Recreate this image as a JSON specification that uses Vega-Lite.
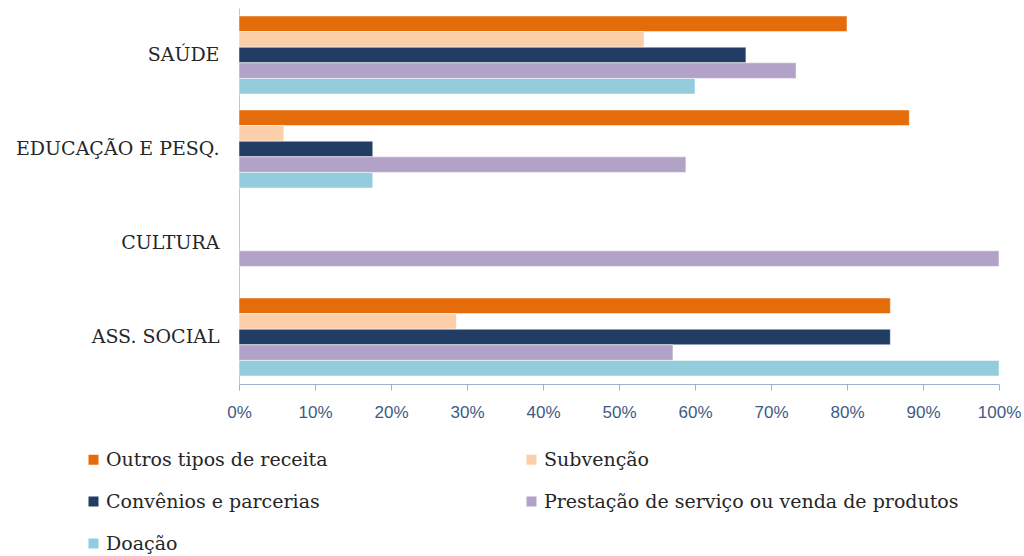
{
  "$schema": "https://vega.github.io/schema/vega-lite/v6.json",
  "autosize": {"type": "none"},
  "width": 760,
  "height": 376,
  "padding": {"left": 239, "top": 8, "right": 25, "bottom": 172},
  "background": "white",
  "data": {"values": [
    {"area": "SAÚDE", "fonte": "Outros tipos de receita", "pct": 80.0},
    {"area": "SAÚDE", "fonte": "Subvenção", "pct": 53.3},
    {"area": "SAÚDE", "fonte": "Convênios e parcerias", "pct": 66.7},
    {"area": "SAÚDE", "fonte": "Prestação de serviço ou venda de produtos", "pct": 73.3},
    {"area": "SAÚDE", "fonte": "Doação", "pct": 60.0},
    {"area": "EDUCAÇÃO E PESQ.", "fonte": "Outros tipos de receita", "pct": 88.2},
    {"area": "EDUCAÇÃO E PESQ.", "fonte": "Subvenção", "pct": 5.9},
    {"area": "EDUCAÇÃO E PESQ.", "fonte": "Convênios e parcerias", "pct": 17.6},
    {"area": "EDUCAÇÃO E PESQ.", "fonte": "Prestação de serviço ou venda de produtos", "pct": 58.8},
    {"area": "EDUCAÇÃO E PESQ.", "fonte": "Doação", "pct": 17.6},
    {"area": "CULTURA", "fonte": "Prestação de serviço ou venda de produtos", "pct": 100.0},
    {"area": "ASS. SOCIAL", "fonte": "Outros tipos de receita", "pct": 85.7},
    {"area": "ASS. SOCIAL", "fonte": "Subvenção", "pct": 28.6},
    {"area": "ASS. SOCIAL", "fonte": "Convênios e parcerias", "pct": 85.7},
    {"area": "ASS. SOCIAL", "fonte": "Prestação de serviço ou venda de produtos", "pct": 57.1},
    {"area": "ASS. SOCIAL", "fonte": "Doação", "pct": 100.0}
  ]},
  "mark": {"type": "bar", "stroke": "white", "strokeWidth": 0.5},
  "encoding": {
    "y": {
      "field": "area", "type": "nominal",
      "sort": ["SAÚDE", "EDUCAÇÃO E PESQ.", "CULTURA", "ASS. SOCIAL"],
      "scale": {"paddingInner": 0.17, "paddingOuter": 0.085},
      "axis": {
        "title": null, "ticks": false, "domainColor": "#B9C7DB", "domainWidth": 1,
        "labelFont": "DejaVu Serif", "labelFontSize": 19, "labelColor": "#262626",
        "labelPadding": 20, "labelLimit": 300
      }
    },
    "yOffset": {
      "field": "fonte", "type": "nominal",
      "scale": {"domain": ["Outros tipos de receita", "Subvenção", "Convênios e parcerias", "Prestação de serviço ou venda de produtos", "Doação"], "paddingInner": 0, "paddingOuter": 0}
    },
    "x": {
      "field": "pct", "type": "quantitative",
      "scale": {"domain": [0, 100], "nice": false},
      "axis": {
        "title": null, "grid": false, "values": [0,10,20,30,40,50,60,70,80,90,100],
        "labelExpr": "datum.value + '%'", "labelFlush": false, "labelOverlap": false,
        "domainColor": "#9FB2CC", "tickColor": "#9FB2CC", "tickSize": 6,
        "labelFont": "Liberation Sans Narrow, Liberation Sans", "labelFontSize": 17,
        "labelColor": "#3E5A84", "labelPadding": 14
      }
    },
    "color": {
      "field": "fonte", "type": "nominal",
      "scale": {
        "domain": ["Outros tipos de receita", "Subvenção", "Convênios e parcerias", "Prestação de serviço ou venda de produtos", "Doação"],
        "range": ["#E46C0A", "#FBCFAA", "#213D63", "#B3A2C7", "#93CDDD"]
      },
      "legend": {
        "title": null, "orient": "none", "legendX": -155, "legendY": 442,
        "columns": 2, "direction": "horizontal", "columnPadding": 194, "rowPadding": 22,
        "symbolType": "square", "symbolSize": 100, "symbolStrokeWidth": 0, "symbolOpacity": 1,
        "labelFont": "DejaVu Serif", "labelFontSize": 19, "labelColor": "#262626",
        "labelOffset": 3, "labelLimit": 600,
        "labelExpr": "(datum.label == 'Subvenção' || datum.label == 'Convênios e parcerias') ? '\u00a0' + datum.label : datum.label"
      }
    }
  },
  "config": {"view": {"stroke": null}}
}
